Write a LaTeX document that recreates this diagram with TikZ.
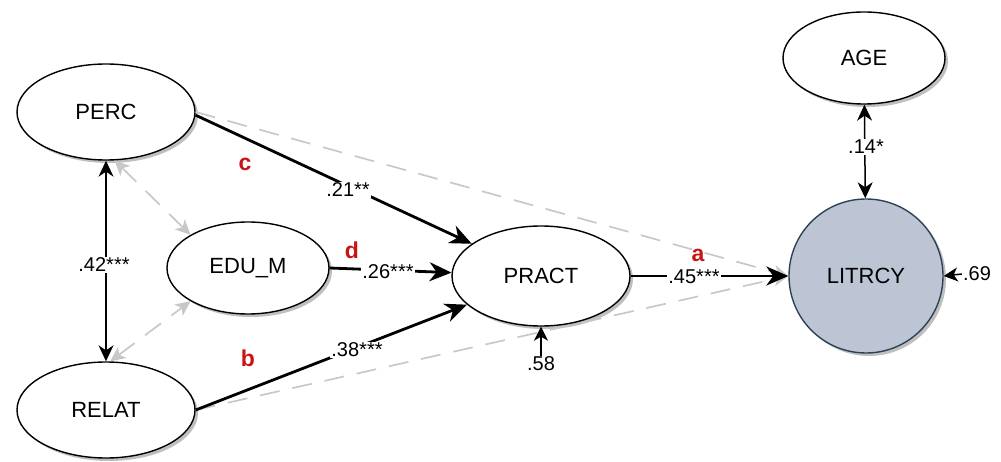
\documentclass[tikz,border=0pt]{standalone}
\usepackage{fontspec}
\setmainfont{Liberation Sans}
\usetikzlibrary{arrows.meta,shadows,shapes.geometric}
\definecolor{litfill}{RGB}{189,197,212}
\definecolor{litdraw}{RGB}{45,65,85}
\definecolor{dgrey}{RGB}{200,200,200}
\definecolor{lred}{RGB}{200,20,20}
\begin{document}
\begin{tikzpicture}[x=1pt,y=-1pt,
  var/.style={ellipse, draw=black, line width=1.4pt, fill=white, inner sep=0pt,
    font=\fontsize{22}{26}\selectfont,
    drop shadow={shadow xshift=3pt, shadow yshift=-3pt, fill=black, opacity=0.25}},
  mainarrow/.style={line width=2.8pt, -{Stealth[length=22pt,width=19pt,inset=7pt]}},
  corr/.style={line width=1.5pt, {Stealth[length=16pt,width=15pt,inset=5pt]}-{Stealth[length=16pt,width=15pt,inset=5pt]}},
  resid/.style={line width=1.5pt, -{Stealth[length=14pt,width=14pt,inset=4pt]}},
  dlink/.style={draw=dgrey, line width=1.7pt, dash pattern=on 20pt off 13pt},
  dtip/.style={-{Stealth[length=15pt,width=14pt,inset=4pt]}},
  dtips/.style={{Stealth[length=15pt,width=14pt,inset=4pt]}-{Stealth[length=15pt,width=14pt,inset=4pt]}},
  lbl/.style={fill=white, inner sep=1pt, font=\fontsize{20}{23}\selectfont},
  letter/.style={text=lred, inner sep=0pt, font=\fontsize{23}{26}\selectfont\bfseries},
]
\useasboundingbox (0,0) rectangle (1001,462);

% nodes
\node[var, minimum width=178pt, minimum height=96pt] (PERC) at (106,112) {PERC};
\node[var, minimum width=162pt, minimum height=92pt] (EDUM) at (248,268) {EDU\_M};
\node[var, minimum width=178pt, minimum height=96pt] (RELAT) at (106,410) {RELAT};
\node[var, minimum width=178pt, minimum height=100pt] (PRACT) at (541,276) {PRACT};
\node[var, minimum width=162pt, minimum height=92pt] (AGE) at (864,58) {AGE};
\node[circle, draw=litdraw, fill=litfill, line width=1.4pt, minimum size=154pt, inner sep=0pt,
  font=\fontsize{22}{26}\selectfont,
  drop shadow={shadow xshift=3pt, shadow yshift=-3pt, fill=black, opacity=0.25}] (LIT) at (866,276) {LITRCY};

% dashed grey links
\draw[dlink, dtip] (PERC.east) -- (LIT.west);
\draw[dlink, dtip] (RELAT.east) -- (LIT.west);
\draw[dlink, dtips] (PERC.-80) -- (EDUM.150);
\draw[dlink, dtips] (RELAT.85) -- (EDUM.210);

% main paths
\draw[mainarrow] (PERC.-2) -- (PRACT);
\draw[mainarrow] (EDUM.east) -- (PRACT);
\draw[mainarrow] (RELAT.east) -- (PRACT);
\draw[mainarrow] (PRACT) -- (LIT);

% correlations
\draw[corr] (PERC) -- (RELAT);
\draw[corr] (AGE) -- (LIT);

% residuals
\node[lbl, fill=none] (r58) at (541,364) {.58};
\node[lbl, fill=none] (r69) at (977,274) {.69};
\draw[resid] (r58.north) -- (PRACT.south);
\draw[resid] (r69.west) -- (LIT.east);

% coefficient labels
\node[lbl] (l21) at (348,190) {.21**};
\node[lbl] (l26) at (388,272) {.26***};
\node[lbl] (l38) at (357,350) {.38***};
\node[lbl] (l45) at (694,277) {.45***};
\node[lbl] (l42) at (104,265) {.42***};
\node[lbl] (l14) at (866,147) {.14*};

% path letters
\node[letter] (lc) at (245,164) {c};
\node[letter] (ld) at (352,250) {d};
\node[letter] (lb) at (248,358) {b};
\node[letter] (la) at (698,255) {a};
\end{tikzpicture}
\end{document}
